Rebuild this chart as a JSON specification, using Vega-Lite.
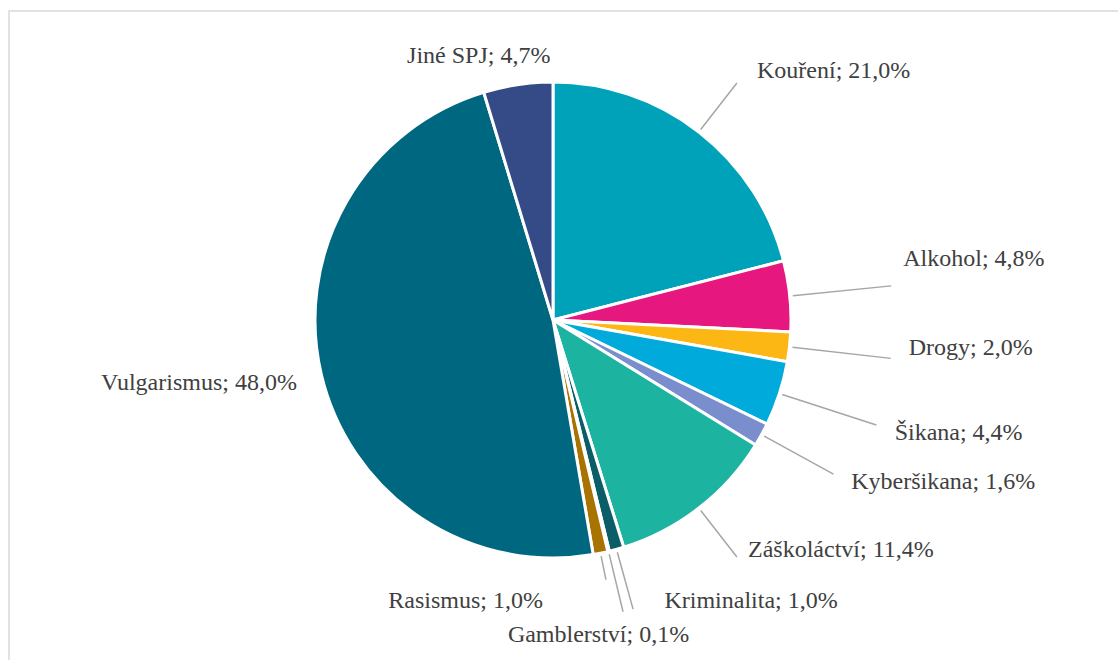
{
  "$schema": "https://vega.github.io/schema/vega-lite/v6.json",
  "width": 1115,
  "height": 655,
  "autosize": {"type": "none"},
  "padding": {"left": 9, "top": 11, "right": -6, "bottom": -6},
  "background": "white",
  "view": {"stroke": "#D9D9D9", "strokeWidth": 1.5},
  "config": {
    "view": {"stroke": "#D9D9D9", "strokeWidth": 1.5},
    "style": {"view": {"stroke": "#D9D9D9", "strokeWidth": 1.5}},
    "text": {"font": "Liberation Serif", "fontSize": 24, "fill": "#404040", "baseline": "middle"}
  },
  "data": {
    "values": [
      {"o": 1, "k": "Kouření", "v": 21.0, "label": "Kouření; 21,0%"},
      {"o": 2, "k": "Alkohol", "v": 4.8, "label": "Alkohol; 4,8%"},
      {"o": 3, "k": "Drogy", "v": 2.0, "label": "Drogy; 2,0%"},
      {"o": 4, "k": "Šikana", "v": 4.4, "label": "Šikana; 4,4%"},
      {"o": 5, "k": "Kyberšikana", "v": 1.6, "label": "Kyberšikana; 1,6%"},
      {"o": 6, "k": "Záškoláctví", "v": 11.4, "label": "Záškoláctví; 11,4%"},
      {"o": 7, "k": "Kriminalita", "v": 1.0, "label": "Kriminalita; 1,0%"},
      {"o": 8, "k": "Gamblerství", "v": 0.1, "label": "Gamblerství; 0,1%"},
      {"o": 9, "k": "Rasismus", "v": 1.0, "label": "Rasismus; 1,0%"},
      {"o": 10, "k": "Vulgarismus", "v": 48.0, "label": "Vulgarismus; 48,0%"},
      {"o": 11, "k": "Jiné SPJ", "v": 4.7, "label": "Jiné SPJ; 4,7%"}
    ]
  },
  "encoding": {
    "theta": {"field": "v", "type": "quantitative", "stack": true},
    "order": {"field": "o", "type": "quantitative"}
  },
  "layer": [
    {
      "mark": {"type": "arc", "radius": 238, "stroke": "white", "strokeWidth": 3, "xOffset": -13.5, "yOffset": -18.5},
      "encoding": {
        "color": {
          "field": "k", "type": "nominal", "legend": null,
          "scale": {
            "domain": ["Kouření", "Alkohol", "Drogy", "Šikana", "Kyberšikana", "Záškoláctví", "Kriminalita", "Gamblerství", "Rasismus", "Vulgarismus", "Jiné SPJ"],
            "range": ["#00A2B9", "#E6177E", "#FDB714", "#00AADB", "#7A8ECE", "#1CB3A0", "#0B5E68", "#6B3A7A", "#A87300", "#006781", "#354B88"]
          }
        }
      }
    },
    {
      "mark": {"type": "arc", "radius": 300, "radius2": 241, "padAngle": 1.3, "filled": false, "stroke": "#A6A6A6", "strokeWidth": 1.5, "xOffset": -13.5, "yOffset": -18.5},
      "encoding": {"strokeOpacity": {"condition": {"test": {"field": "k", "oneOf": ["Kouření", "Záškoláctví", "Kriminalita", "Gamblerství"]}, "value": 1}, "value": 0}}
    },
    {
      "mark": {"type": "arc", "radius": 340, "radius2": 241, "padAngle": 1.2, "filled": false, "stroke": "#A6A6A6", "strokeWidth": 1.5, "xOffset": -13.5, "yOffset": -18.5},
      "encoding": {"strokeOpacity": {"condition": {"test": {"field": "k", "oneOf": ["Alkohol", "Drogy", "Šikana"]}, "value": 1}, "value": 0}}
    },
    {
      "mark": {"type": "arc", "radius": 320, "radius2": 241, "padAngle": 1.25, "filled": false, "stroke": "#A6A6A6", "strokeWidth": 1.5, "xOffset": -13.5, "yOffset": -18.5},
      "encoding": {"strokeOpacity": {"condition": {"test": {"field": "k", "oneOf": ["Kyberšikana"]}, "value": 1}, "value": 0}}
    },
    {
      "mark": {"type": "arc", "radius": 265, "radius2": 241, "padAngle": 1.3, "filled": false, "stroke": "#A6A6A6", "strokeWidth": 1.5, "xOffset": -13.5, "yOffset": -18.5},
      "encoding": {"strokeOpacity": {"condition": {"test": {"field": "k", "oneOf": ["Rasismus"]}, "value": 1}, "value": 0}}
    },
    {
      "mark": {"type": "text", "radius": 310, "align": "left", "dx": 14, "dy": -4, "xOffset": -13.5, "yOffset": -18.5},
      "encoding": {"text": {"condition": {"test": {"field": "k", "equal": "Kouření"}, "field": "label", "type": "nominal"}, "value": ""}}
    },
    {
      "mark": {"type": "text", "radius": 345, "align": "left", "dx": 7, "dy": -26, "xOffset": -13.5, "yOffset": -18.5},
      "encoding": {"text": {"condition": {"test": {"field": "k", "equal": "Alkohol"}, "field": "label", "type": "nominal"}, "value": ""}}
    },
    {
      "mark": {"type": "text", "radius": 355, "align": "left", "dx": 3, "dy": -12, "xOffset": -13.5, "yOffset": -18.5},
      "encoding": {"text": {"condition": {"test": {"field": "k", "equal": "Drogy"}, "field": "label", "type": "nominal"}, "value": ""}}
    },
    {
      "mark": {"type": "text", "radius": 355, "align": "left", "dx": 4, "dy": 3, "xOffset": -13.5, "yOffset": -18.5},
      "encoding": {"text": {"condition": {"test": {"field": "k", "equal": "Šikana"}, "field": "label", "type": "nominal"}, "value": ""}}
    },
    {
      "mark": {"type": "text", "radius": 330, "align": "left", "dx": 9, "dy": 3, "xOffset": -13.5, "yOffset": -18.5},
      "encoding": {"text": {"condition": {"test": {"field": "k", "equal": "Kyberšikana"}, "field": "label", "type": "nominal"}, "value": ""}}
    },
    {
      "mark": {"type": "text", "radius": 310, "align": "left", "dx": 5, "dy": -15, "xOffset": -13.5, "yOffset": -18.5},
      "encoding": {"text": {"condition": {"test": {"field": "k", "equal": "Záškoláctví"}, "field": "label", "type": "nominal"}, "value": ""}}
    },
    {
      "mark": {"type": "text", "radius": 305, "align": "left", "dx": 30, "dy": -13, "xOffset": -13.5, "yOffset": -18.5},
      "encoding": {"text": {"condition": {"test": {"field": "k", "equal": "Kriminalita"}, "field": "label", "type": "nominal"}, "value": ""}}
    },
    {
      "mark": {"type": "text", "radius": 315, "align": "center", "dx": -28, "dy": 9, "xOffset": -13.5, "yOffset": -18.5},
      "encoding": {"text": {"condition": {"test": {"field": "k", "equal": "Gamblerství"}, "field": "label", "type": "nominal"}, "value": ""}}
    },
    {
      "mark": {"type": "text", "radius": 280, "align": "right", "dx": -66, "dy": 7, "xOffset": -13.5, "yOffset": -18.5},
      "encoding": {"text": {"condition": {"test": {"field": "k", "equal": "Rasismus"}, "field": "label", "type": "nominal"}, "value": ""}}
    },
    {
      "mark": {"type": "text", "radius": 258, "align": "right", "dx": -5, "dy": 4, "xOffset": -13.5, "yOffset": -18.5},
      "encoding": {"text": {"condition": {"test": {"field": "k", "equal": "Vulgarismus"}, "field": "label", "type": "nominal"}, "value": ""}}
    },
    {
      "mark": {"type": "text", "radius": 260, "align": "center", "dx": -36, "dy": -7, "xOffset": -13.5, "yOffset": -18.5},
      "encoding": {"text": {"condition": {"test": {"field": "k", "equal": "Jiné SPJ"}, "field": "label", "type": "nominal"}, "value": ""}}
    }
  ]
}
